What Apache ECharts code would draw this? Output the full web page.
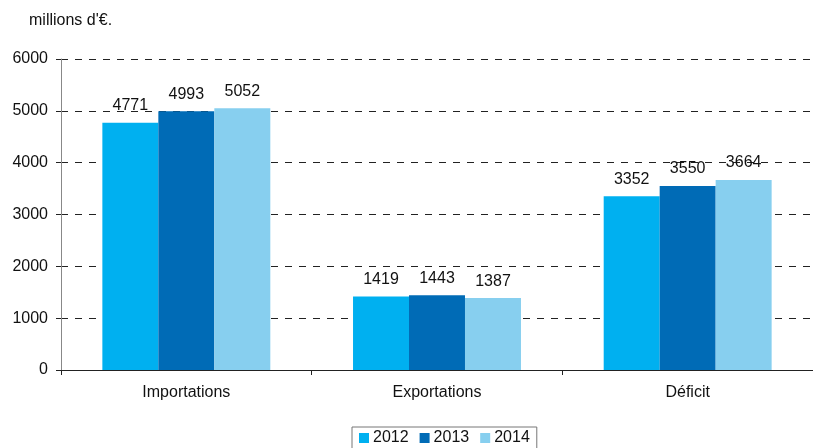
<!DOCTYPE html>
<html><head><meta charset="utf-8">
<script src="https://cdn.jsdelivr.net/npm/echarts@6/dist/echarts.min.js"></script>
<style>html,body{margin:0;padding:0;background:#fff}#c{width:813px;height:448px}</style>
</head><body><div id="c"></div>
<script>
const categories = ['Importations', 'Exportations', 'Déficit'];
const years = ['2012', '2013', '2014'];
const v2012 = [4771, 1419, 3352];
const v2013 = [4993, 1443, 3550];
const v2014 = [5052, 1387, 3664];
const yTicks = [0, 1000, 2000, 3000, 4000, 5000, 6000];
const colors = ['#00B0F0', '#006BB6', '#87CFEF'];
const font = 'Liberation Sans, Arial, sans-serif';
const chart = echarts.init(document.getElementById('c'));
const mk = (name, data, i) => ({
  name, type: 'bar', data, barGap: '0%', barCategoryGap: '33%',
  itemStyle: { color: colors[i] },
  label: { show: true, position: 'top', distance: 9, color: '#111', fontFamily: font, fontSize: 16 }
});
chart.setOption({
  animation: false,
  textStyle: { fontFamily: font },
  title: { text: "millions d'€.", left: 29, top: 13, padding: 0, textStyle: { fontSize: 16, fontWeight: 'normal', color: '#111', fontFamily: font } },
  legend: {
    top: 427, left: 352, data: years,
    itemWidth: 10, itemHeight: 10, itemGap: 11,
    icon: 'rect', borderColor: '#777', borderWidth: 1, padding: [3, 7, 5, 7],
    textStyle: { fontSize: 16, color: '#111', fontFamily: font, padding: [0, 0, 0, -1] }
  },
  grid: { left: 61, right: -4, top: 59, bottom: 78 },
  xAxis: {
    type: 'category', data: categories,
    axisLine: { lineStyle: { color: '#222' } },
    axisTick: { show: true, length: 5, lineStyle: { color: '#222' } },
    axisLabel: { color: '#111', fontSize: 16, margin: 15, fontFamily: font }
  },
  yAxis: {
    type: 'value', min: yTicks[0], max: yTicks[yTicks.length - 1], interval: 1000,
    axisLine: { show: true, lineStyle: { color: '#888' } },
    axisTick: { show: true, length: 5, lineStyle: { color: '#222' } },
    axisLabel: { color: '#111', fontSize: 16, margin: 13, fontFamily: font, formatter: v => String(v) },
    splitLine: { show: true, lineStyle: { color: '#222', type: [7, 7] } }
  },
  series: [mk(years[0], v2012, 0), mk(years[1], v2013, 1), mk(years[2], v2014, 2)]
});
</script></body></html>
